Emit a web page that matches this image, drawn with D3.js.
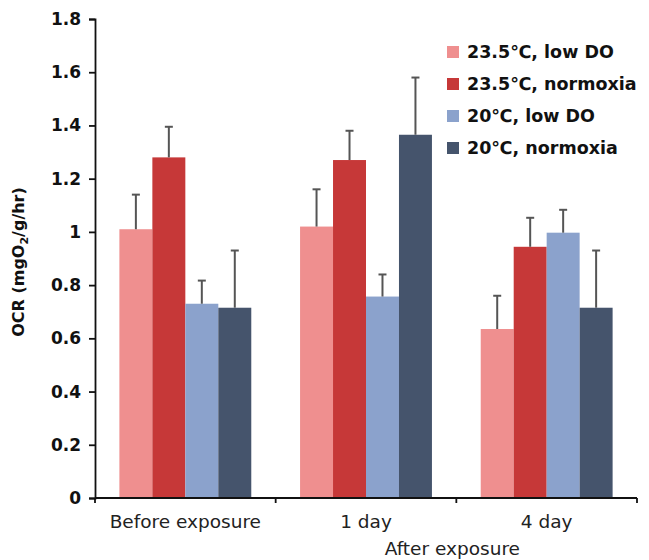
<!DOCTYPE html>
<html>
<head>
<meta charset="utf-8">
<script src="https://cdn.jsdelivr.net/npm/d3@7"></script>
<style>
  body { margin: 0; background: #fff; }
  svg { font-family: "DejaVu Sans", sans-serif; }
</style>
</head>
<body>
<div id="chart"></div>
<script>
// values
var groups = ['Before exposure', '1 day', '4 day'];
var series = ['23.5\u2103, low DO', '23.5\u2103, normoxia', '20\u2103, low DO', '20\u2103, normoxia'];
var colors = ['#ef8f8f', '#c63838', '#8ba2cc', '#45546c'];
var means = [
    [1.01, 1.28, 0.73, 0.715],
    [1.02, 1.27, 0.757, 1.365],
    [0.635, 0.944, 0.997, 0.715]
];
var errors = [
    [0.13, 0.115, 0.087, 0.215],
    [0.14, 0.11, 0.083, 0.215],
    [0.125, 0.109, 0.086, 0.215]
];
var yTicks = [0, 0.2, 0.4, 0.6, 0.8, 1, 1.2, 1.4, 1.6, 1.8];

var width = 649, height = 560;
var svg = d3.select('#chart').append('svg')
    .attr('width', width)
    .attr('height', height);

var x0 = d3.scaleBand()
    .domain(groups)
    .range([95, 637])
    .paddingInner(0.27)
    .paddingOuter(0.135);

var x1 = d3.scaleBand()
    .domain(d3.range(series.length))
    .range([0, x0.bandwidth()]);

var y = d3.scaleLinear()
    .domain([0, 1.8])
    .range([498, 19]);

// bars
var rows = svg.append('g')
    .selectAll('g')
    .data(groups)
    .enter()
    .append('g')
    .attr('transform', function(d) { return 'translate(' + x0(d) + ',0)'; });

var cells = rows.selectAll('g')
    .data(function(d, i) {
        return means[i].map(function(v, j) { return {s: j, v: v, e: errors[i][j]}; });
    })
    .enter()
    .append('g');

cells.append('rect')
    .attr('x', function(d) { return x1(d.s); })
    .attr('y', function(d) { return y(d.v); })
    .attr('width', x1.bandwidth())
    .attr('height', function(d) { return y(0) - y(d.v); })
    .attr('fill', function(d) { return colors[d.s]; });

// error bars, upper half only
cells.append('line')
    .attr('x1', function(d) { return x1(d.s) + x1.bandwidth() / 2; })
    .attr('x2', function(d) { return x1(d.s) + x1.bandwidth() / 2; })
    .attr('y1', function(d) { return y(d.v); })
    .attr('y2', function(d) { return y(d.v + d.e); })
    .attr('stroke', '#555')
    .attr('stroke-width', 2);

cells.append('line')
    .attr('x1', function(d) { return x1(d.s) + x1.bandwidth() / 2 - 4; })
    .attr('x2', function(d) { return x1(d.s) + x1.bandwidth() / 2 + 4; })
    .attr('y1', function(d) { return y(d.v + d.e); })
    .attr('y2', function(d) { return y(d.v + d.e); })
    .attr('stroke', '#555')
    .attr('stroke-width', 2);

// y axis
var yAxis = d3.axisLeft(y)
    .tickValues(yTicks)
    .tickFormat(function(d) { return d3.format('~g')(d); })
    .tickSize(6)
    .tickPadding(8);

var gy = svg.append('g')
    .attr('transform', 'translate(95,0)')
    .call(yAxis);
gy.select('.domain').attr('stroke', '#111').attr('stroke-width', 1.8);
gy.selectAll('.tick line').attr('stroke', '#111').attr('stroke-width', 1.8);
gy.selectAll('.tick text')
    .attr('font-size', 17)
    .attr('font-weight', 'bold')
    .attr('fill', '#111')
    .attr('font-family', '"DejaVu Sans", sans-serif');

// x axis: ticks on the band edges
var edges = groups.map(function(g) { return x0(g) - x0.step() * 0.135; });
edges.push(637);

var gx = svg.append('g');
gx.append('line')
    .attr('x1', 95).attr('x2', 637)
    .attr('y1', y(0)).attr('y2', y(0))
    .attr('stroke', '#111')
    .attr('stroke-width', 1.8);
gx.selectAll('.xtick')
    .data(edges)
    .enter()
    .append('line')
    .attr('x1', function(d) { return d; })
    .attr('x2', function(d) { return d; })
    .attr('y1', y(0))
    .attr('y2', y(0) + 5)
    .attr('stroke', '#111')
    .attr('stroke-width', 1.8);

gx.selectAll('.xlabel')
    .data(groups)
    .enter()
    .append('text')
    .attr('x', function(d) { return x0(d) + x0.bandwidth() / 2; })
    .attr('y', 528)
    .attr('text-anchor', 'middle')
    .attr('font-size', 18.5)
    .attr('fill', '#222')
    .text(function(d) { return d; });

svg.append('text')
    .attr('x', edges[2] - 4)
    .attr('y', 555)
    .attr('text-anchor', 'middle')
    .attr('font-size', 18.5)
    .attr('fill', '#222')
    .text('After exposure');

// y title
var yTitle = svg.append('text')
    .attr('transform', 'translate(24,262) rotate(-90)')
    .attr('text-anchor', 'middle')
    .attr('font-size', 16)
    .attr('font-weight', 'bold')
    .attr('fill', '#111');
yTitle.append('tspan').text('OCR (mgO');
yTitle.append('tspan').attr('font-size', 11).attr('dy', 4).text('2');
yTitle.append('tspan').attr('dy', -4).text('/g/hr)');

// legend
var legend = svg.append('g')
    .selectAll('g')
    .data(series)
    .enter()
    .append('g')
    .attr('transform', function(d, i) { return 'translate(447,' + (52 + i * 32) + ')'; });

legend.append('rect')
    .attr('x', 0)
    .attr('y', -6)
    .attr('width', 12)
    .attr('height', 12)
    .attr('fill', function(d, i) { return colors[i]; });

legend.append('text')
    .attr('x', 20)
    .attr('y', 0)
    .attr('dy', '0.35em')
    .attr('font-size', 17.5)
    .attr('font-weight', 'bold')
    .attr('fill', '#111')
    .text(function(d) { return d; });
</script>
</body>
</html>
